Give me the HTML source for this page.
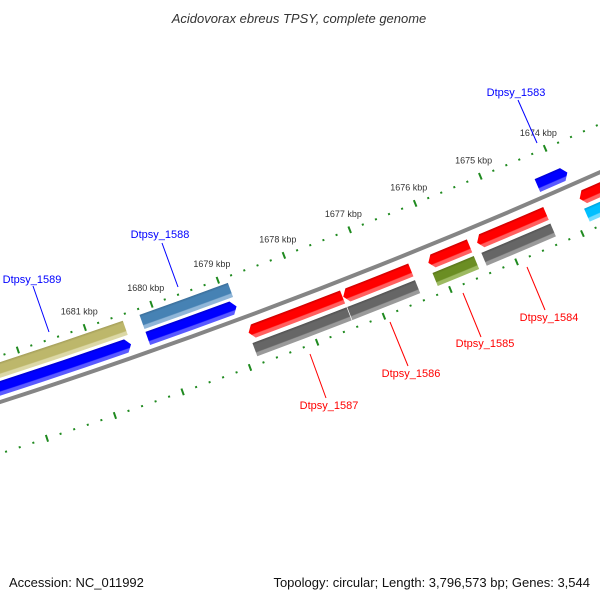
<!DOCTYPE html>
<html><head><meta charset="utf-8">
<style>
html,body{margin:0;padding:0;background:#fff;}
svg{display:block;}
text{font-family:"Liberation Sans","DejaVu Sans",sans-serif;}
</style></head>
<body>
<svg id="map" width="600" height="600" viewBox="0 0 600 600" xmlns="http://www.w3.org/2000/svg">
<rect x="0" y="0" width="600" height="600" fill="#fff"/>
<defs id="defs"></defs>
<g id="ticks"></g>
<g id="features"></g>
<g id="labels"></g>
<text x="299" y="23" text-anchor="middle" font-size="13" font-style="italic" fill="#333">Acidovorax ebreus TPSY, complete genome</text>
<text x="9" y="587" font-size="13" fill="#111">Accession: NC_011992</text>
<text x="590" y="587" text-anchor="end" font-size="13" fill="#111">Topology: circular; Length: 3,796,573 bp; Genes: 3,544</text>
</svg>
<script>
// ---- data ----
const tickLabelKbp = [1674, 1675, 1676, 1677, 1678, 1679, 1680, 1681];
const geneNames = ['Dtpsy_1589','Dtpsy_1588','Dtpsy_1587','Dtpsy_1586','Dtpsy_1585','Dtpsy_1584','Dtpsy_1583','Dtpsy_1582'];
const geneStart = [1683.0, 1680.21, 1678.85, 1677.43, 1676.145, 1675.405, 1674.31, 1673.84];
const geneEnd = [1680.46, 1678.88, 1677.44, 1676.41, 1675.52, 1674.355, 1673.85, 1672.4];
const geneStrand = [1, 1, -1, -1, -1, -1, 1, -1];
const cogCategory = ['olive','steel','gray','gray','drab','gray','none','cyan'];
const labeledGenes = ['Dtpsy_1589','Dtpsy_1588','Dtpsy_1587','Dtpsy_1586','Dtpsy_1585','Dtpsy_1584','Dtpsy_1583'];

// ---- geometry ----
const CX = -1853, CY = -5333;
const A0 = 69.75, DEG_PER_KBP = 0.676;
function ang(k){ return A0 + DEG_PER_KBP*(k-1679); }
function pt(a,r){ const t=a*Math.PI/180; return [CX+r*Math.cos(t), CY+r*Math.sin(t)]; }
function f(p){ return p[0].toFixed(2)+' '+p[1].toFixed(2); }
const NS='http://www.w3.org/2000/svg';
const R_UT=5983, R_LT=6076, R_BB=6027;
const TR2=[5989,6004], TR1=[6007,6021], TRR=[6036,6050], TRC=[6054,6068];
const palette = {
  blue:['#0000cc','#0000ff','#5a5aff'], red:['#c80000','#ff0000','#ff6060'],
  gray:['#505050','#666666','#9a9a9a'], steel:['#3a6d98','#4682b4','#90b6d8'],
  olive:['#a39d58','#bdb76b','#dcd8a6'], drab:['#587419','#6b8e23','#9dba62'],
  cyan:['#00a0d8','#00bfff','#70dcff']
};
const defs=document.getElementById('defs');
let gid=0;
function grad(colKey,r1,r2){
  const c=palette[colKey]; const R=6100; const id='g'+(gid++);
  const g=document.createElementNS(NS,'radialGradient');
  g.setAttribute('id',id); g.setAttribute('gradientUnits','userSpaceOnUse');
  g.setAttribute('cx',CX); g.setAttribute('cy',CY); g.setAttribute('fx',CX); g.setAttribute('fy',CY); g.setAttribute('r',R);
  [[r1,c[0]],[r1+2.5,c[1]],[r2-4.5,c[1]],[r2-3.5,c[2]],[r2,c[2]]].forEach(s=>{
    const st=document.createElementNS(NS,'stop');
    st.setAttribute('offset',(s[0]/R).toFixed(6)); st.setAttribute('stop-color',s[1]); g.appendChild(st);
  });
  defs.appendChild(g); return 'url(#'+id+')';
}
function band(aL,aR,r1,r2,tip){ // aL > aR ; tip: 0 none, 1 at right(aR), -1 at left(aL)
  const rm=(r1+r2)/2, t=(5/6020)*180/Math.PI;
  let d;
  if(tip===1){
    d='M'+f(pt(aL,r1))+' A'+r1+' '+r1+' 0 0 0 '+f(pt(aR+t,r1))+' L'+f(pt(aR,rm))+' L'+f(pt(aR+t,r2))+' A'+r2+' '+r2+' 0 0 1 '+f(pt(aL,r2))+' Z';
  } else if(tip===-1){
    d='M'+f(pt(aL,rm))+' L'+f(pt(aL-t,r1))+' A'+r1+' '+r1+' 0 0 0 '+f(pt(aR,r1))+' L'+f(pt(aR,r2))+' A'+r2+' '+r2+' 0 0 1 '+f(pt(aL-t,r2))+' Z';
  } else {
    d='M'+f(pt(aL,r1))+' A'+r1+' '+r1+' 0 0 0 '+f(pt(aR,r1))+' L'+f(pt(aR,r2))+' A'+r2+' '+r2+' 0 0 1 '+f(pt(aL,r2))+' Z';
  }
  return d;
}

// ---- ticks ----
const tg=document.getElementById('ticks');
for(let i=0;i<=55;i++){
  const k=1672+i*0.2; const major=(i%5===0);
  const a=ang(k);
  [R_UT,R_LT].forEach(r=>{
    const h=major?3.5:1;
    const p1=pt(a,r-h), p2=pt(a,r+h);
    const ln=document.createElementNS(NS,'line');
    
    
    ln.setAttribute('x1',p1[0]); ln.setAttribute('y1',p1[1]); ln.setAttribute('x2',p2[0]); ln.setAttribute('y2',p2[1]);
    ln.setAttribute('stroke','#1f8a1f'); ln.setAttribute('stroke-width',2);
    tg.appendChild(ln);
  });
}
tickLabelKbp.forEach(k=>{
  const p=pt(ang(k),5966);
  const tx=document.createElementNS(NS,'text');
  
  
  tx.setAttribute('x',p[0]); tx.setAttribute('y',p[1]+3);
  tx.setAttribute('text-anchor','middle'); tx.setAttribute('font-size','9'); tx.setAttribute('fill','#333');
  tx.textContent=k+' kbp'; tg.appendChild(tx);
});

// ---- backbone ----
const fg=document.getElementById('features');
const bb=document.createElementNS(NS,'path');


bb.setAttribute('d','M'+f(pt(73,R_BB))+' A'+R_BB+' '+R_BB+' 0 0 0 '+f(pt(65,R_BB)));
bb.setAttribute('fill','none'); bb.setAttribute('stroke','#858585'); bb.setAttribute('stroke-width','4');
fg.appendChild(bb);

// ---- features ----
geneNames.forEach((n,i)=>{
  const aL=ang(geneStart[i]), aR=ang(geneEnd[i]);
  const fwd=geneStrand[i]===1;
  const cds=fwd?TR1:TRR, cog=fwd?TR2:TRC;
  const ck=fwd?'blue':'red';
  const p=document.createElementNS(NS,'path');
  
  
  p.setAttribute('d',band(aL,aR,cds[0],cds[1],fwd?1:-1));
  p.setAttribute('fill',grad(ck,cds[0],cds[1]));
  fg.appendChild(p);
  if(cogCategory[i]!=='none'){
    const q=document.createElementNS(NS,'path');
    
    
    q.setAttribute('d',band(aL,aR,cog[0],cog[1],0));
    q.setAttribute('fill',grad(cogCategory[i],cog[0],cog[1]));
    fg.appendChild(q);
  }
});

// ---- gene labels ----
const lg=document.getElementById('labels');
const labelPos = {
  'Dtpsy_1589':[32,283,[33,286],[49,332],'#0000ff'],
  'Dtpsy_1588':[160,238,[162,243],[178,287],'#0000ff'],
  'Dtpsy_1583':[516,96,[518,100],[537,143],'#0000ff'],
  'Dtpsy_1587':[329,409,[310,354],[326,398],'#ff0000'],
  'Dtpsy_1586':[411,377,[390,322],[408,366],'#ff0000'],
  'Dtpsy_1585':[485,347,[463,293],[481,337],'#ff0000'],
  'Dtpsy_1584':[549,321,[527,267],[545,310],'#ff0000']
};
labeledGenes.forEach(n=>{
  const L=labelPos[n];
  const ln=document.createElementNS(NS,'line');
  
  
  ln.setAttribute('x1',L[2][0]); ln.setAttribute('y1',L[2][1]); ln.setAttribute('x2',L[3][0]); ln.setAttribute('y2',L[3][1]);
  ln.setAttribute('stroke',L[4]); ln.setAttribute('stroke-width','1');
  lg.appendChild(ln);
  const tx=document.createElementNS(NS,'text');
  
  
  tx.setAttribute('x',L[0]); tx.setAttribute('y',L[1]);
  tx.setAttribute('text-anchor','middle'); tx.setAttribute('font-size','11'); tx.setAttribute('fill',L[4]);
  tx.textContent=n; lg.appendChild(tx);
});
</script>
</body></html>
